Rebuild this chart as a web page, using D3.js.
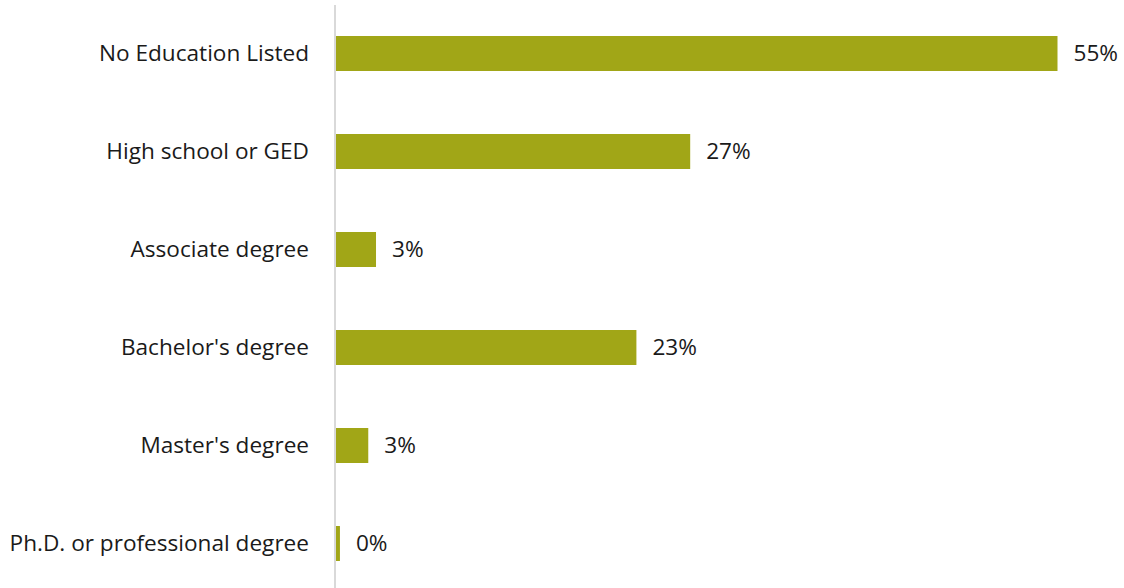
<!DOCTYPE html>
<html>
<head>
<meta charset="utf-8">
<script src="https://cdn.jsdelivr.net/npm/d3@7"></script>
<style>
  body { margin: 0; background: #fff; }
  .cat-label { font-family: 'Open Sans', 'Noto Sans', sans-serif; font-size: 22.6px; fill: #1a1a1a; }
  .val-label { font-family: 'Open Sans', 'Noto Sans', sans-serif; font-size: 22.6px; fill: #1a1a1a; }
</style>
</head>
<body>
<div id="chart"></div>
<script>
const categories = [
  'No Education Listed',
  'High school or GED',
  'Associate degree',
  "Bachelor's degree",
  "Master's degree",
  'Ph.D. or professional degree'
];
const values = [55.0, 27.0, 3.05, 22.9, 2.46, 0.3];
const valueLabels = ['55%', '27%', '3%', '23%', '3%', '0%'];

const width = 1124;
const height = 588;
const axisX = 335;

const svg = d3.select('#chart')
  .append('svg')
  .attr('width', width)
  .attr('height', height)
  .style('display', 'block');

const x = d3.scaleLinear()
  .domain([0, 55])
  .range([axisX + 1, 1057.5]);

const y = d3.scaleBand()
  .domain(categories)
  .range([4.5, 592.5])
  .paddingInner(0.643)
  .paddingOuter(0.3215);

svg.selectAll('rect.bar')
  .data(categories)
  .join('rect')
  .attr('class', 'bar')
  .attr('x', x(0))
  .attr('y', d => y(d))
  .attr('width', (d, i) => x(values[i]) - x(0))
  .attr('height', y.bandwidth())
  .attr('fill', '#A1A617');

// axis line
svg.append('line')
  .attr('x1', axisX)
  .attr('x2', axisX)
  .attr('y1', 5)
  .attr('y2', height)
  .attr('stroke', '#d9d9d9')
  .attr('stroke-width', 2);

svg.selectAll('text.cat-label')
  .data(categories)
  .join('text')
  .attr('class', 'cat-label')
  .attr('x', 309)
  .attr('y', d => y(d) + y.bandwidth() / 2)
  .attr('dy', '0.35em')
  .attr('text-anchor', 'end')
  .text(d => d);

svg.selectAll('text.val-label')
  .data(categories)
  .join('text')
  .attr('class', 'val-label')
  .attr('x', (d, i) => x(values[i]) + 16)
  .attr('y', d => y(d) + y.bandwidth() / 2)
  .attr('dy', '0.35em')
  .text((d, i) => valueLabels[i]);
</script>
</body>
</html>
